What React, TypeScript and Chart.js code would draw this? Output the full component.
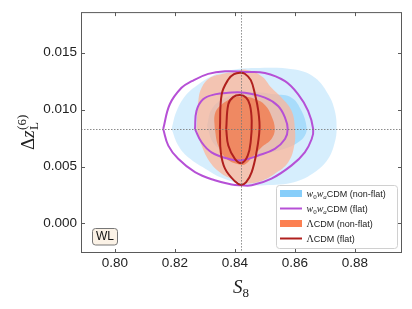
import React, { useEffect, useRef } from "react";
import { Chart, registerables } from "chart.js";

Chart.register(...registerables);

// ---------- axes ----------
const xTicks = [0.8, 0.82, 0.84, 0.86, 0.88];
const yTicks = [0.0, 0.005, 0.01, 0.015];
const xLimits = [0.7887, 0.8957];
const yLimits = [-0.0026, 0.01857];
const fiducialS8 = 0.842;
const fiducialDz = 0.00834;

// ---------- contours (S8, dz) ----------
// w0waCDM (non-flat) 95%
const blueOuterS8 = [0.8189, 0.8206, 0.8239, 0.8278, 0.8322, 0.8383, 0.8467, 0.86, 0.8667, 0.8711, 0.8733, 0.8739, 0.8733, 0.8711, 0.8667, 0.86, 0.85, 0.8433, 0.8356, 0.8311, 0.8244, 0.8211];
const blueOuterDz = [0.00829, 0.00989, 0.01134, 0.01221, 0.01294, 0.01345, 0.01366, 0.01352, 0.01279, 0.01134, 0.00989, 0.00829, 0.00713, 0.00568, 0.00451, 0.00364, 0.00335, 0.00343, 0.00401, 0.00466, 0.00582, 0.00684];
// w0waCDM (non-flat) 68%
const blueInnerS8 = [0.8307, 0.8323, 0.8367, 0.845, 0.8533, 0.8589, 0.8622, 0.8639, 0.8633, 0.8611, 0.8577, 0.8517, 0.845, 0.8377, 0.833];
const blueInnerDz = [0.00857, 0.01006, 0.01102, 0.01154, 0.01134, 0.01105, 0.00989, 0.00843, 0.00771, 0.00713, 0.00667, 0.00623, 0.00597, 0.00623, 0.00701];
// LCDM (non-flat) 95%
const orangeOuterS8 = [0.8272, 0.8278, 0.8289, 0.8317, 0.8356, 0.84, 0.8433, 0.8489, 0.8522, 0.8556, 0.8589, 0.86, 0.8598, 0.8578, 0.8533, 0.8478, 0.8422, 0.84, 0.8356, 0.8317, 0.8289];
const orangeOuterDz = [0.00829, 0.01076, 0.01192, 0.01279, 0.01314, 0.01331, 0.01352, 0.01294, 0.01192, 0.01105, 0.00989, 0.00829, 0.00684, 0.00538, 0.00437, 0.00364, 0.00353, 0.00379, 0.00437, 0.00538, 0.00684];
// LCDM (non-flat) 68%
const orangeInnerS8 = [0.8333, 0.8333, 0.835, 0.8389, 0.8423, 0.8467, 0.85, 0.8522, 0.8533, 0.8522, 0.8489, 0.8457, 0.8433, 0.8411, 0.8372, 0.8344];
const orangeInnerDz = [0.00829, 0.0096, 0.01032, 0.01097, 0.01115, 0.01093, 0.01041, 0.00945, 0.00829, 0.00742, 0.00669, 0.00579, 0.00518, 0.0052, 0.00568, 0.00684];
// w0waCDM (flat) 95%
const purpleOuterS8 = [0.8161, 0.8183, 0.8222, 0.8256, 0.8311, 0.8367, 0.8433, 0.85, 0.8567, 0.8611, 0.8644, 0.8661, 0.8656, 0.8633, 0.8589, 0.8522, 0.8456, 0.842, 0.8389, 0.8333, 0.8267, 0.8211, 0.8178];
const purpleOuterDz = [0.00829, 0.01047, 0.01192, 0.0125, 0.01314, 0.01337, 0.01331, 0.01322, 0.0125, 0.01134, 0.00989, 0.00829, 0.00742, 0.00625, 0.0051, 0.00394, 0.00335, 0.00335, 0.00342, 0.00379, 0.00451, 0.00568, 0.00684];
// w0waCDM (flat) 68%
const purpleInnerS8 = [0.8267, 0.8272, 0.8294, 0.8333, 0.8378, 0.8433, 0.85, 0.8544, 0.8567, 0.8576, 0.8567, 0.8533, 0.8478, 0.842, 0.8378, 0.8322, 0.8289];
const purpleInnerDz = [0.00829, 0.00989, 0.01091, 0.01134, 0.01148, 0.01148, 0.01105, 0.01032, 0.0093, 0.00829, 0.00742, 0.00655, 0.00597, 0.00553, 0.00568, 0.00625, 0.00713];
// LCDM (flat) 95%
const redOuterS8 = [0.835, 0.8356, 0.8378, 0.8397, 0.8417, 0.8433, 0.8453, 0.8467, 0.8478, 0.8482, 0.8472, 0.8456, 0.8437, 0.842, 0.84, 0.8367, 0.8353];
const redOuterDz = [0.00829, 0.01134, 0.01265, 0.01311, 0.01324, 0.01315, 0.01259, 0.01134, 0.00989, 0.00829, 0.00625, 0.00451, 0.00361, 0.0034, 0.0037, 0.00481, 0.00625];
// LCDM (flat) 68%
const redInnerS8 = [0.8371, 0.8378, 0.8394, 0.8417, 0.8437, 0.845, 0.8456, 0.8453, 0.8443, 0.8423, 0.84, 0.8378];
const redInnerDz = [0.00829, 0.01047, 0.0111, 0.01128, 0.01106, 0.01041, 0.00902, 0.00727, 0.00597, 0.00531, 0.00568, 0.00684];

const legendLabels = ["w0waCDM (non-flat)", "w0waCDM (flat)", "ΛCDM (non-flat)", "ΛCDM (flat)"];

const BLUE = "rgb(135,206,250)";
const ORANGE = "rgb(252,128,82)";
const PURPLE = "#b650d6";
const RED = "#b0201e";

function closed(xs: number[], ys: number[]) {
  const pts = xs.map((x, i) => ({ x, y: ys[i] }));
  pts.push({ ...pts[0] });
  return pts;
}

type Part = { t: string; font: string; dy?: number };
function drawParts(ctx: CanvasRenderingContext2D, x: number, y: number, parts: Part[]) {
  let cx = x;
  for (const p of parts) {
    ctx.font = p.font;
    ctx.fillText(p.t, cx, y + (p.dy || 0));
    cx += ctx.measureText(p.t).width;
  }
  return cx;
}

const decor = {
  id: "decor",
  afterDatasetsDraw(chart: any) {
    const ctx: CanvasRenderingContext2D = chart.ctx;
    const { left, right, top, bottom } = chart.chartArea;
    const xs = chart.scales.x;
    const ys = chart.scales.y;
    ctx.save();
    // fiducial crosshair
    ctx.strokeStyle = "rgba(120,120,120,0.85)";
    ctx.lineWidth = 1;
    ctx.setLineDash([1.5, 1.5]);
    const fx = Math.round(xs.getPixelForValue(fiducialS8)) + 0.5;
    const fy = Math.round(ys.getPixelForValue(fiducialDz)) + 0.5;
    ctx.beginPath();
    ctx.moveTo(fx, top);
    ctx.lineTo(fx, bottom);
    ctx.moveTo(left, fy);
    ctx.lineTo(right, fy);
    ctx.stroke();
    ctx.setLineDash([]);

    // frame & inward ticks
    ctx.strokeStyle = "#5a5a5a";
    ctx.lineWidth = 1;
    ctx.strokeRect(left + 0.5, top + 0.5, right - left - 1, bottom - top - 1);
    ctx.beginPath();
    for (const v of xTicks) {
      const p = Math.round(xs.getPixelForValue(v)) + 0.5;
      ctx.moveTo(p, bottom);
      ctx.lineTo(p, bottom - 4);
      ctx.moveTo(p, top);
      ctx.lineTo(p, top + 4);
    }
    for (const v of yTicks) {
      const p = Math.round(ys.getPixelForValue(v)) + 0.5;
      ctx.moveTo(left, p);
      ctx.lineTo(left + 4, p);
      ctx.moveTo(right, p);
      ctx.lineTo(right - 4, p);
    }
    ctx.stroke();

    // legend
    ctx.beginPath();
    ctx.roundRect(276.5, 185.5, 121, 63, 3);
    ctx.fillStyle = "rgba(255,255,255,0.85)";
    ctx.fill();
    ctx.strokeStyle = "#d0d0d0";
    ctx.stroke();
    const rowY = [193.5, 208.5, 223.5, 238.5];
    const kinds = ["patch", "line", "patch", "line"];
    const colors = [BLUE, PURPLE, ORANGE, RED];
    rowY.forEach((ry, i) => {
      if (kinds[i] === "patch") {
        ctx.fillStyle = colors[i];
        ctx.fillRect(280, ry - 3.5, 22, 7);
      } else {
        ctx.strokeStyle = colors[i];
        ctx.lineWidth = 2;
        ctx.beginPath();
        ctx.moveTo(280, ry);
        ctx.lineTo(302, ry);
        ctx.stroke();
      }
      ctx.fillStyle = "#222";
      ctx.textBaseline = "alphabetic";
      ctx.textAlign = "left";
      const label = legendLabels[i];
      const sans = '9px "Liberation Sans"';
      if (label.startsWith("w0wa")) {
        drawParts(ctx, 306.5, ry + 3.2, [
          { t: "w", font: 'italic 10px "Liberation Serif"' },
          { t: "0", font: '7px "Liberation Serif"', dy: 2 },
          { t: "w", font: 'italic 10px "Liberation Serif"' },
          { t: "a", font: 'italic 7px "Liberation Serif"', dy: 2 },
          { t: label.slice(4), font: sans },
        ]);
      } else {
        drawParts(ctx, 306.5, ry + 3.2, [
          { t: "Λ", font: '10px "Liberation Serif"' },
          { t: label.slice(1), font: sans },
        ]);
      }
    });

    // WL box
    ctx.beginPath();
    ctx.roundRect(92.5, 228.5, 25, 16.5, 3);
    ctx.fillStyle = "#fbf2e6";
    ctx.fill();
    ctx.strokeStyle = "#777";
    ctx.lineWidth = 1;
    ctx.stroke();
    ctx.fillStyle = "#111";
    ctx.font = '12px "Liberation Sans"';
    ctx.textAlign = "center";
    ctx.textBaseline = "middle";
    ctx.fillText("WL", 105, 237);

    // x title: S_8
    ctx.textAlign = "left";
    ctx.textBaseline = "alphabetic";
    ctx.fillStyle = "#222";
    drawParts(ctx, 233, 293, [
      { t: "S", font: 'italic 19px "Liberation Serif"' },
      { t: "8", font: '13px "Liberation Serif"', dy: 3.5 },
    ]);

    // y title: Δz_L^(6)
    ctx.translate(34, 150);
    ctx.rotate(-Math.PI / 2);
    const end = drawParts(ctx, 0, 0, [
      { t: "Δ", font: '19px "Liberation Serif"' },
      { t: "z", font: 'italic 19px "Liberation Serif"' },
    ]);
    ctx.font = '13px "Liberation Serif"';
    ctx.fillText("L", end + 0.5, 3.5);
    ctx.fillText("(6)", end + 0.5, -8);
    ctx.restore();
  },
};

export default function App() {
  const ref = useRef<HTMLCanvasElement | null>(null);
  useEffect(() => {
    if (!ref.current) return;
    const fill = (pts: any, color: string, order: number) => ({
      data: pts,
      showLine: true,
      fill: "shape",
      backgroundColor: color,
      borderColor: "rgba(0,0,0,0)",
      borderWidth: 0,
      pointRadius: 0,
      tension: 0.4,
      order,
    });
    const line = (pts: any, color: string, order: number) => ({
      data: pts,
      showLine: true,
      fill: false,
      borderColor: color,
      borderWidth: 2,
      pointRadius: 0,
      tension: 0.4,
      order,
    });
    const tickFont = { family: "Liberation Sans", size: 13.5 };
    const chart = new Chart(ref.current, {
      type: "scatter",
      data: {
        datasets: [
          fill(closed(blueOuterS8, blueOuterDz), "rgba(135,206,250,0.34)", 10),
          fill(closed(blueInnerS8, blueInnerDz), "rgba(135,206,250,0.58)", 9),
          fill(closed(orangeOuterS8, orangeOuterDz), "rgba(255,180,150,0.72)", 8),
          fill(closed(orangeInnerS8, orangeInnerDz), "rgba(240,130,88,0.88)", 7),
          line(closed(purpleOuterS8, purpleOuterDz), PURPLE, 4),
          line(closed(purpleInnerS8, purpleInnerDz), PURPLE, 3),
          line(closed(redOuterS8, redOuterDz), RED, 2),
          line(closed(redInnerS8, redInnerDz), RED, 1),
        ] as any,
      },
      options: {
        responsive: false,
        maintainAspectRatio: false,
        devicePixelRatio: 1,
        animation: false,
        layout: { padding: { left: 0, right: 10, top: 10, bottom: 0 } },
        plugins: { legend: { display: false }, tooltip: { enabled: false } },
        scales: {
          x: {
            type: "linear",
            min: xLimits[0],
            max: xLimits[1],
            afterBuildTicks: (s: any) => {
              s.ticks = xTicks.map((v) => ({ value: v }));
            },
            afterFit: (s: any) => {
              s.height = 56;
            },
            grid: { display: false, drawTicks: false },
            border: { display: false },
            ticks: {
              padding: 2,
              font: tickFont,
              color: "#222",
              maxRotation: 0,
              callback: (v: any) => Number(v).toFixed(2),
            },
          },
          y: {
            type: "linear",
            min: yLimits[0],
            max: yLimits[1],
            afterBuildTicks: (s: any) => {
              s.ticks = yTicks.map((v) => ({ value: v }));
            },
            afterFit: (s: any) => {
              s.width = 81;
            },
            grid: { display: false, drawTicks: false },
            border: { display: false },
            ticks: {
              padding: 4,
              font: tickFont,
              color: "#222",
              callback: (v: any) => Number(v).toFixed(3),
            },
          },
        },
      } as any,
      plugins: [decor],
    });
    return () => chart.destroy();
  }, []);
  return (
    <div style={{ position: "absolute", left: 0, top: 0, width: 412, height: 309, background: "#fff" }}>
      <canvas ref={ref} width={412} height={309} style={{ display: "block" }} />
    </div>
  );
}
